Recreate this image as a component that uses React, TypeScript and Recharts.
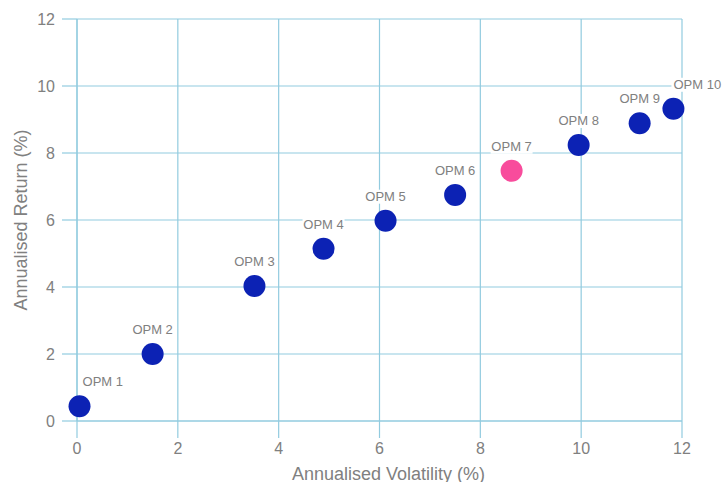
import React from 'react'
import { ScatterChart, Scatter, XAxis, YAxis, CartesianGrid, Cell } from 'recharts'

const names = ['OPM 1', 'OPM 2', 'OPM 3', 'OPM 4', 'OPM 5', 'OPM 6', 'OPM 7', 'OPM 8', 'OPM 9', 'OPM 10']
const volatility = [0.05, 1.5, 3.52, 4.89, 6.12, 7.5, 8.62, 9.95, 11.16, 11.83]
const returns = [0.44, 2.0, 4.03, 5.14, 5.98, 6.75, 7.47, 8.24, 8.89, 9.32]
const highlighted = 'OPM 7'
const ticks = [0, 2, 4, 6, 8, 10, 12]

const data = names.map((name, i) => ({ name, x: volatility[i], y: returns[i] }))

const GRID = '#92cbdf'
const TEXT = '#808080'
const FONT = '"Liberation Sans", Arial, sans-serif'

const Dot = (props: any) => {
  const { cx, cy, payload, index } = props
  const last = index === names.length - 1
  const edge = index === 0 || last
  const label = payload.name
  const w = label.length * 7.6
  const tx = edge ? cx + (index === 0 ? 3 : 0) : cx
  const ty = cy - 20
  const rx = edge ? tx - 2 : tx - w / 2 - 2
  return (
    <g>
      <rect x={rx} y={ty - 11} width={w + 4} height={14} fill="#fff" />
      <text x={tx} y={ty} textAnchor={edge ? 'start' : 'middle'} fontSize={13} fill={TEXT} fontFamily={FONT}>
        {label}
      </text>
      <circle cx={cx} cy={cy} r={11} fill={payload.name === highlighted ? '#f84c9c' : '#0c22b4'} />
    </g>
  )
}

const YLabel = ({ viewBox }: any) => {
  const cy = viewBox.y + viewBox.height / 2
  return (
    <text x={21} y={cy} transform={`rotate(-90 21 ${cy})`} textAnchor="middle" dominantBaseline="central"
      fontSize={18} fill={TEXT} fontFamily={FONT}>
      Annualised Return (%)
    </text>
  )
}

const XLabel = ({ viewBox }: any) => (
  <text x={viewBox.x + viewBox.width / 2 + 9} y={480} textAnchor="middle" fontSize={18} fill={TEXT} fontFamily={FONT}>
    Annualised Volatility (%)
  </text>
)

export default function App() {
  return (
    <div style={{ position: 'absolute', left: 0, top: 0, width: 724, height: 482, background: '#fff', overflow: 'hidden' }}>
      <ScatterChart width={724} height={482} margin={{ top: 19, right: 42, bottom: 0, left: 0 }}>
        <CartesianGrid stroke={GRID} strokeWidth={1.2} />
        <XAxis
          type="number"
          dataKey="x"
          domain={[0, 12]}
          ticks={ticks}
          height={61}
          axisLine={{ stroke: GRID, strokeWidth: 1.2 }}
          tickLine={{ stroke: GRID, strokeWidth: 1.2 }}
          tickSize={17}
          tickMargin={5}
          tick={{ fill: TEXT, fontSize: 16, fontFamily: FONT }}
          label={<XLabel />}
        />
        <YAxis
          type="number"
          dataKey="y"
          domain={[0, 12]}
          ticks={ticks}
          width={77}
          axisLine={{ stroke: GRID, strokeWidth: 1.2 }}
          tickLine={{ stroke: GRID, strokeWidth: 1.2 }}
          tickSize={15}
          tickMargin={7}
          tick={{ fill: TEXT, fontSize: 16, fontFamily: FONT }}
          label={<YLabel />}
        />
        <Scatter data={data} shape={<Dot />} isAnimationActive={false}>
          {data.map(d => (
            <Cell key={d.name} fill={d.name === highlighted ? '#f84c9c' : '#0c22b4'} />
          ))}
        </Scatter>
      </ScatterChart>
    </div>
  )
}
